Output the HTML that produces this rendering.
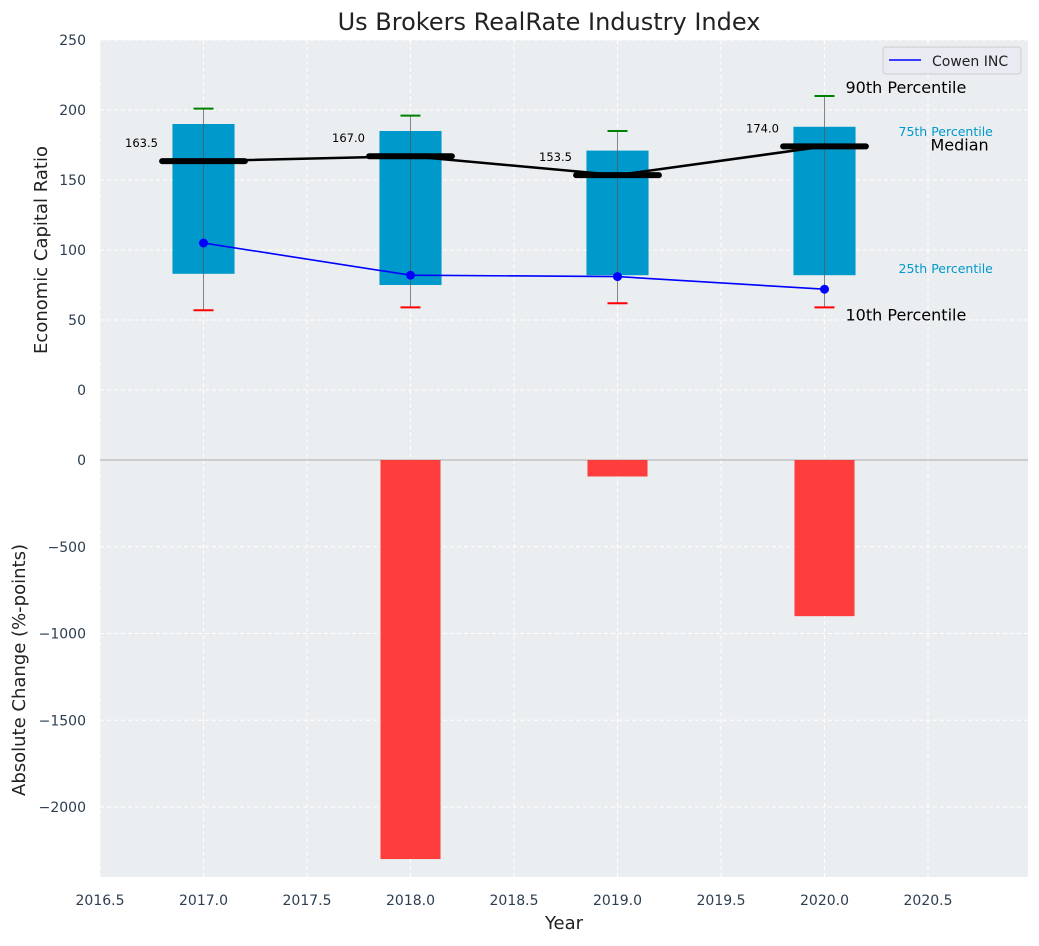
<!DOCTYPE html>
<html><head><meta charset="utf-8"><style>
body{margin:0;background:#fff;font-family:"DejaVu Sans","Liberation Sans",sans-serif}
</style></head><body>
<svg id="c" width="1039" height="942" xmlns="http://www.w3.org/2000/svg"></svg>
<script>
const years=[2017,2018,2019,2020];
const p10=[57,59,62,59];
const p25=[83,75,82,82];
const p75=[190,185,171,188];
const p90=[201,196,185,210];
const medians=[163.5,167.0,153.5,174.0];
const cowen=[105,82,81,72];
const changes=[0,-2300,-95,-900];
const xTicks=[2016.5,2017,2017.5,2018,2018.5,2019,2019.5,2020,2020.5];
const yTopTicks=[0,50,100,150,200,250];
const yBotTicks=[-2000,-1500,-1000,-500,0];

const L=100,R=1028;
const X=v=>L+(v-2016.5)*207;
const YT=v=>390-(v)*1.4;
const YB=v=>460-v*0.1735;
const svg=document.getElementById('c');
const NS='http://www.w3.org/2000/svg';
function mk(tag,attrs,parent){const e=document.createElementNS(NS,tag);for(const k in attrs)e.setAttribute(k,attrs[k]);(parent||svg).appendChild(e);return e;}
function txt(s,attrs){const e=mk('text',attrs);e.textContent=s;return e;}

let e;
e=mk('rect',{x:L,y:40,width:R-L,height:420,fill:'#eaeef0'});


e=mk('rect',{x:L,y:460,width:R-L,height:417,fill:'#eaeef0'});


xTicks.forEach(t=>{
  mk('line',{x1:X(t),x2:X(t),y1:40,y2:877,stroke:'#fff','stroke-dasharray':'4,3','stroke-width':1});
  e=txt(String(t.toFixed(1)),{x:X(t),y:905,'text-anchor':'middle','font-size':14,fill:'#2c3e50'});
  
  
});
yTopTicks.forEach(t=>{
  mk('line',{x1:L,x2:R,y1:YT(t),y2:YT(t),stroke:'#fff','stroke-dasharray':'4,3'});
  e=txt(String(t),{x:86,y:YT(t)+5,'text-anchor':'end','font-size':14,fill:'#2c3e50'});
  
  
});
yBotTicks.forEach(t=>{
  mk('line',{x1:L,x2:R,y1:YB(t),y2:YB(t),stroke:'#fff','stroke-dasharray':'4,3'});
  e=txt(t<0?'\u2212'+(-t):String(t),{x:86,y:YB(t)+5,'text-anchor':'end','font-size':14,fill:'#2c3e50'});
  
  
});
mk('line',{x1:L,x2:R,y1:460,y2:460,stroke:'#aaa','stroke-width':1});

years.forEach((y,i)=>{
  const x=X(y),w=0.15*207;
  e=mk('rect',{x:x-w,y:YT(p75[i]),width:2*w,height:YT(p25[i])-YT(p75[i]),fill:'#0099cc'});
  
  
  mk('line',{x1:x,x2:x,y1:YT(p90[i]),y2:YT(p10[i]),stroke:'#555','stroke-width':1,opacity:0.7});
  e=mk('line',{x1:x-10,x2:x+10,y1:YT(p90[i]),y2:YT(p90[i]),stroke:'green','stroke-width':2});
  
  
  e=mk('line',{x1:x-10,x2:x+10,y1:YT(p10[i]),y2:YT(p10[i]),stroke:'red','stroke-width':2});
  
  
});
e=mk('polyline',{points:years.map((y,i)=>X(y)+','+YT(medians[i])).join(' '),fill:'none',stroke:'#000','stroke-width':2.5});


years.forEach((y,i)=>{
  e=mk('line',{x1:X(y)-0.2*207,x2:X(y)+0.2*207,y1:YT(medians[i]),y2:YT(medians[i]),stroke:'#000','stroke-width':6,'stroke-linecap':'round'});
  
  
  e=txt(medians[i].toFixed(1),{x:X(y)-62,y:YT(medians[i])-14,'text-anchor':'middle','font-size':11.5,fill:'#000'});
  
  
});
e=mk('polyline',{points:years.map((y,i)=>X(y)+','+YT(cowen[i])).join(' '),fill:'none',stroke:'blue','stroke-width':1.6});


years.forEach((y,i)=>{
  e=mk('circle',{cx:X(y),cy:YT(cowen[i]),r:4.5,fill:'blue'});
  
  
});
years.forEach((y,i)=>{
  const w=0.145*207;
  const y0=YB(0),y1=YB(changes[i]);
  e=mk('rect',{x:X(y)-w,y:Math.min(y0,y1),width:2*w,height:Math.abs(y1-y0),fill:'#ff3333',opacity:0.95});
  
  
});
const last=X(2020);
[['90th Percentile',last+21,YT(p90[3])-3,16,'#000'],['10th Percentile',last+21,YT(p10[3])+13,16,'#000'],
 ['75th Percentile',last+74,YT(p75[3])+9,12.5,'#0099cc'],['25th Percentile',last+74,YT(p25[3])-2,12.5,'#0099cc'],
 ['Median',last+106,YT(medians[3])+4,16,'#000']].forEach(a=>{
  e=txt(a[0],{x:a[1],y:a[2],'font-size':a[3],fill:a[4]});
  
  
});
e=mk('rect',{x:883,y:47,width:138,height:27,rx:3,fill:'#eaeaf2',stroke:'#ccc'});


mk('line',{x1:889,x2:921,y1:60,y2:60,stroke:'blue','stroke-width':1.6});
e=txt('Cowen INC',{x:932,y:66,'font-size':14,fill:'#222'});


e=txt('Us Brokers RealRate Industry Index',{x:549,y:30,'text-anchor':'middle','font-size':24,fill:'#222'});


e=txt('Year',{x:564,y:929,'text-anchor':'middle','font-size':18,fill:'#222'});


e=txt('Economic Capital Ratio',{x:0,y:0,'text-anchor':'middle','font-size':18,fill:'#222',transform:'translate(47,250) rotate(-90)'});


e=txt('Absolute Change (%-points)',{x:0,y:0,'text-anchor':'middle','font-size':18,fill:'#222',transform:'translate(25,670) rotate(-90)'});


</script>
</body></html>
